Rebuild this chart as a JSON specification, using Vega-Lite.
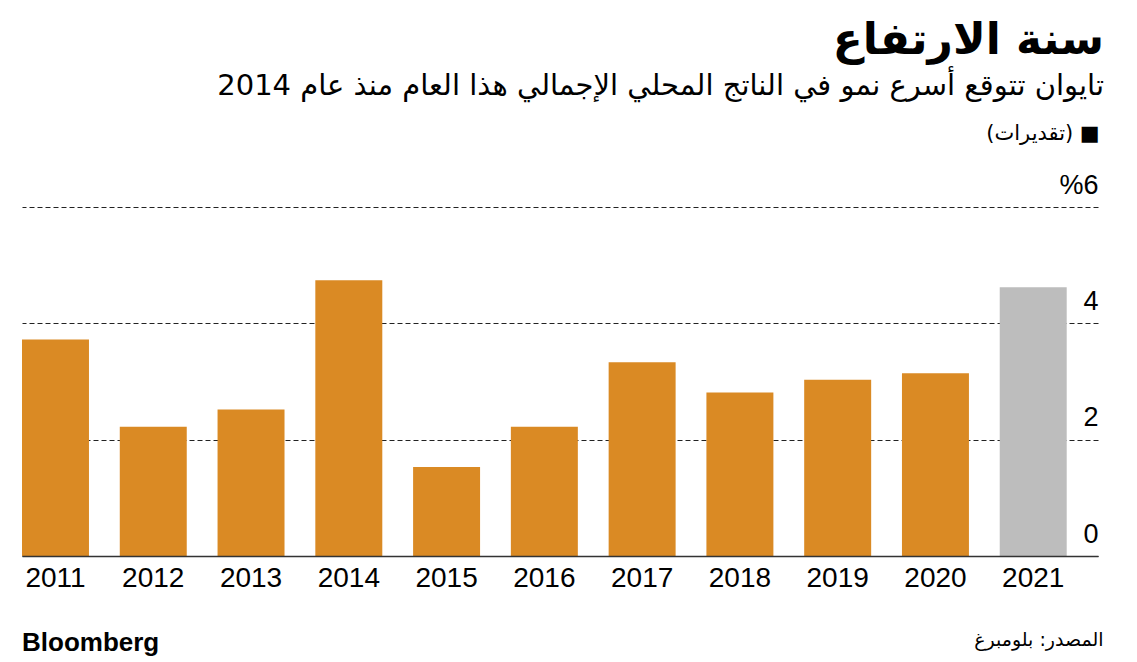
{
  "$schema": "https://vega.github.io/schema/vega-lite/v6.json",
  "width": 1076,
  "height": 349,
  "autosize": {"type": "none"},
  "padding": {"left": 22, "top": 207, "right": 39, "bottom": 106},
  "background": "white",
  "title": {
    "text": "سنة الارتفاع",
    "subtitle": "تايوان تتوقع أسرع نمو في الناتج المحلي الإجمالي هذا العام منذ عام 2014",
    "anchor": "end",
    "frame": "group",
    "dx": 6,
    "font": "DejaVu Sans",
    "fontSize": 44,
    "fontWeight": "bold",
    "color": "#000",
    "subtitleFont": "DejaVu Sans",
    "subtitleFontSize": 29,
    "subtitleColor": "#000",
    "subtitlePadding": 9,
    "offset": 22
  },
  "config": {"view": {"stroke": null}},
  "layer": [
    {
      "data": {"values": [
        {"year": "2011", "value": 3.72, "type": "actual"},
        {"year": "2012", "value": 2.22, "type": "actual"},
        {"year": "2013", "value": 2.52, "type": "actual"},
        {"year": "2014", "value": 4.74, "type": "actual"},
        {"year": "2015", "value": 1.53, "type": "actual"},
        {"year": "2016", "value": 2.22, "type": "actual"},
        {"year": "2017", "value": 3.33, "type": "actual"},
        {"year": "2018", "value": 2.81, "type": "actual"},
        {"year": "2019", "value": 3.03, "type": "actual"},
        {"year": "2020", "value": 3.14, "type": "actual"},
        {"year": "2021", "value": 4.62, "type": "estimate"}
      ]},
      "mark": {"type": "bar"},
      "encoding": {
        "x": {
          "field": "year",
          "type": "nominal",
          "scale": {"paddingInner": 0.315, "paddingOuter": 0.16, "align": 0},
          "axis": {
            "title": "المصدر: بلومبرغ",
            "titleAnchor": "end",
            "titleAlign": "right",
            "titleX": 1081,
            "titleFont": "DejaVu Sans",
            "titleFontSize": 19,
            "titleFontWeight": "normal",
            "titleColor": "#000",
            "titlePadding": 38,
            "labelAngle": 0,
            "labelFont": "Liberation Sans",
            "labelFontSize": 28,
            "labelColor": "#000",
            "labelPadding": 8,
            "ticks": false,
            "domainColor": "#333",
            "domainWidth": 1.5,
            "zindex": 1
          }
        },
        "y": {
          "field": "value",
          "type": "quantitative",
          "scale": {"domain": [0, 6], "nice": false},
          "axis": {
            "orient": "right",
            "values": [0, 2, 4, 6],
            "title": null,
            "domain": false,
            "ticks": false,
            "labelPadding": 0,
            "labelAlign": "right",
            "labelBaseline": "alphabetic",
            "labelOffset": -14,
            "labelFont": "Liberation Sans",
            "labelFontSize": 27,
            "labelColor": "#000",
            "gridDash": [5, 3],
            "gridColor": "#222",
            "gridWidth": 1,
            "labelExpr": "datum.value == 6 ? '%6' : format(datum.value, 'd')"
          }
        },
        "color": {
          "field": "type",
          "type": "nominal",
          "scale": {"domain": ["actual", "estimate"], "range": ["#DA8A24", "#BDBDBD"]},
          "legend": null
        }
      }
    },
    {
      "data": {"values": [{"label": "Bloomberg"}]},
      "mark": {"type": "text", "align": "left", "baseline": "alphabetic", "font": "Liberation Sans", "fontSize": 26, "fontWeight": "bold", "color": "#000"},
      "encoding": {
        "x": {"datum": "2011", "bandPosition": 0},
        "y": {"datum": -1.64},
        "text": {"field": "label"}
      }
    },
    {
      "data": {"values": [{"label": "(تقديرات) ■"}]},
      "mark": {"type": "text", "align": "right", "baseline": "middle", "font": "DejaVu Sans", "fontSize": 21, "color": "#000", "dx": 33},
      "encoding": {
        "x": {"datum": "2021", "bandPosition": 1},
        "y": {"datum": 7.25},
        "text": {"field": "label"}
      }
    }
  ]
}
